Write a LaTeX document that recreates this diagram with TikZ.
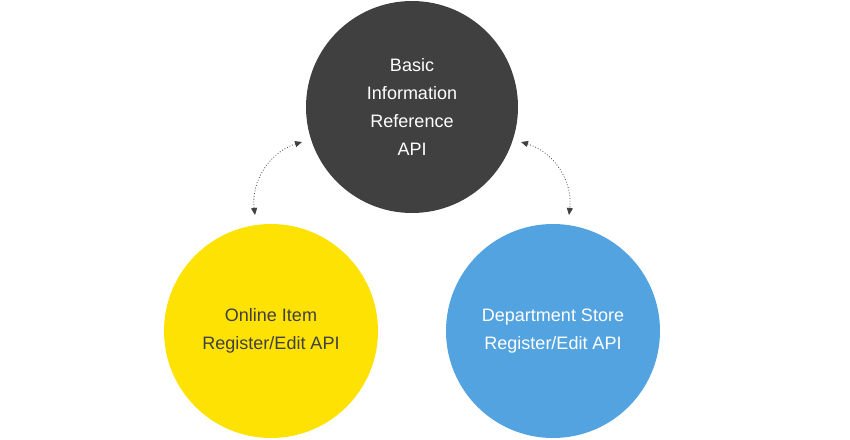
\documentclass[tikz,border=0pt]{standalone}
\usepackage{fontspec}
\setmainfont{Liberation Sans}
\usetikzlibrary{arrows.meta}
\begin{document}
\begin{tikzpicture}[x=1pt,y=-1pt,
  circ/.style={circle,minimum size=212pt,inner sep=0pt,align=center,font=\fontsize{18}{28}\selectfont},
  con/.style={draw=black!75,dotted,thick,{Triangle[length=7pt,width=6pt]}-{Triangle[length=7pt,width=6pt]}}]
\useasboundingbox (0,0) rectangle (850,439);
\node[circ,fill=black!75,text=white] (top) at (412,107) {Basic\\Information\\ Reference\\API};
\node[circ,fill=yellow!85!orange,minimum size=214pt,text=black!75] (left) at (271,331) {Online Item\\Register/Edit API};
\node[circ,fill=cyan!70!blue!70!white,minimum size=214pt,text=white] (right) at (553,331) {Department Store\\Register/Edit API};
\coordinate (a1) at (302,142);
\coordinate (a2) at (255,215);
\coordinate (b1) at (521,142);
\coordinate (b2) at (569,215);
\draw[con] (a1) to[bend right=40] (a2);
\draw[con] (b1) to[bend left=40] (b2);
\end{tikzpicture}
\end{document}
